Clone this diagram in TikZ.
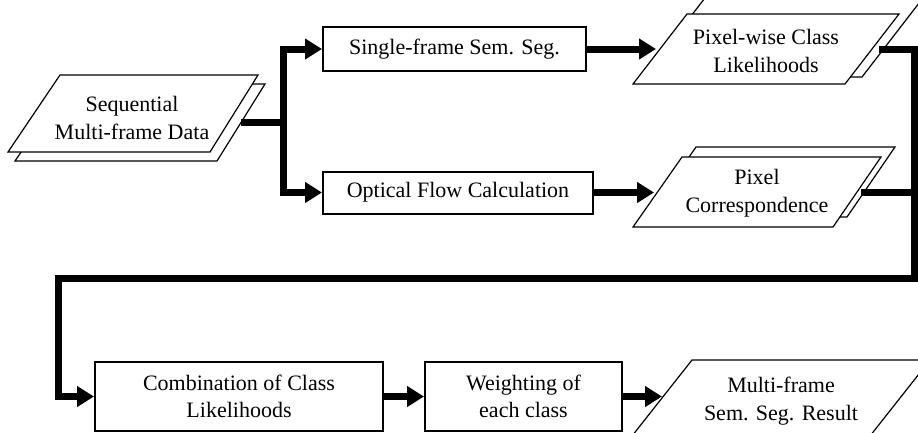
\documentclass[tikz,border=0pt]{standalone}
\usepackage{fontspec}
\setmainfont{Liberation Serif}
\usetikzlibrary{arrows.meta}
\begin{document}
\begin{tikzpicture}[x=1pt,y=-1pt,
  flow/.style={line width=7pt, -{Triangle[length=17pt,width=20pt]}},
  bus/.style={line width=7pt},
  txt/.style={align=center, font=\fontsize{22}{27.5}\selectfont, inner sep=0pt},
  procbox/.style={txt, draw, line width=2pt, fill=white},
  datashape/.style={draw, line width=1.2pt, fill=white, line join=miter}]
\useasboundingbox (0,0) rectangle (918,432);

% ---- input data (stacked sheets) ----
\draw[datashape] (67,84) -- (265,84) -- (217,161) -- (15,161) -- cycle;
\draw[datashape] (60,75) -- (258,75) -- (210,152) -- (8,152) -- cycle;
\node[txt] (seq) at (132,118) {Sequential\\Multi-frame Data};
\coordinate (seqout) at (241,122);
\coordinate (split) at (283,122);

% ---- processing boxes ----
\node[procbox, minimum width=263pt, minimum height=44pt] (single) at (454.5,49) {Single-frame Sem. Seg.};
\node[procbox, minimum width=270pt, minimum height=42pt] (optical) at (458,192.5) {Optical Flow Calculation};

% ---- class likelihoods (stacked sheets) ----
\draw[datashape] (705.7,-3) -- (923.7,-3) -- (862,77) -- (644,77) -- cycle;
\draw[datashape] (687,14) -- (899,14) -- (845,84) -- (633,84) -- cycle;
\node[txt] (likeli) at (766,51) {Pixel-wise Class\\Likelihoods};
\coordinate (pwin) at (656,49);
\coordinate (pwout) at (879,49);

% ---- pixel correspondence (stacked sheets) ----
\draw[datashape] (696,147) -- (895,147) -- (847,217) -- (647,217) -- cycle;
\draw[datashape] (682,157) -- (881,157) -- (833,227) -- (633,227) -- cycle;
\node[txt] (corr) at (757,193) {Pixel\\Correspondence};
\coordinate (pcin) at (654,192.5);
\coordinate (pcout) at (861,192.5);

% ---- lower row ----
\node[procbox, minimum width=288pt, minimum height=69pt] (comb) at (239,396.5) {Combination of Class\\Likelihoods};
\node[procbox, minimum width=197pt, minimum height=69pt] (weight) at (523.5,396.5) {Weighting of\\each class};
\draw[datashape] (692,360) -- (930,360) -- (870,436) -- (632,436) -- cycle;
\node[txt] (result) at (781,401) {Multi-frame\\Sem. Seg. Result};
\coordinate (resin) at (662,396.5);

% ---- return path coordinates ----
\coordinate (rbus) at (914,278);
\coordinate (lbus) at (58,278);

% ---- connectors ----
\draw[bus] (seqout) -- (split);
\draw[flow] (split) |- (single.west);
\draw[flow] (split) |- (optical.west);
\draw[flow] (single.east) -- (single.east -| pwin);
\draw[flow] (optical.east) -- (pcin);
\draw[flow] (pwout) -| (rbus) -- (lbus) |- (comb.west);
\draw[bus] (pcout) -- (pcout -| rbus);
\draw[flow] (comb.east) -- (weight.west);
\draw[flow] (weight.east) -- (resin);
\end{tikzpicture}
\end{document}
